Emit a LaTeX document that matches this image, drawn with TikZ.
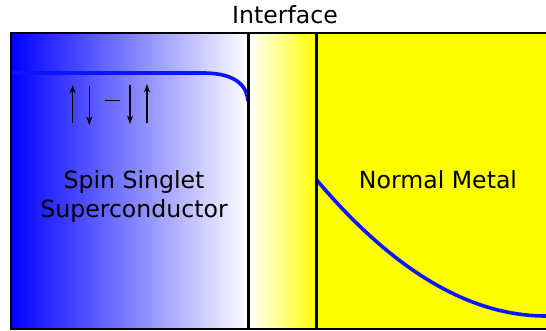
\documentclass[tikz,border=0pt]{standalone}
\usepackage{fontspec}
\setmainfont{DejaVu Sans}
\usetikzlibrary{arrows.meta}
\definecolor{pureyellow}{RGB}{255,255,0}
\definecolor{pureblue}{RGB}{0,0,255}
\definecolor{wavecol}{RGB}{10,20,255}
\begin{document}
\begin{tikzpicture}[x=1pt,y=-1pt,
  lbl/.style={anchor=base,inner sep=0pt,font=\fontsize{23.6}{29}\selectfont},
  border/.style={line width=2.6pt,black},
  wave/.style={line width=3.6pt,color=wavecol},
  spinarrow/.style={line width=1.3pt,-{Stealth[length=8.5pt,width=6pt]}}]
\useasboundingbox (0,0) rectangle (546,330);
\begin{scope}
\clip (0,0) rectangle (546,330);
\shade[left color=pureblue,right color=white] (11,33) rectangle (248.3,329);
\shade[left color=white,right color=pureyellow] (248.3,33) rectangle (316.7,329);
\fill[pureyellow] (316.7,33) rectangle (550,329);
% wave functions
\draw[wave] (11,73) -- (203,73) .. controls (236,73) and (247,86) .. (248,101);
\draw[wave] (316.7,180) .. controls (393.3,270.7) and (469.7,316) .. (546,316);
% borders
\draw[border] (550,33) -- (11,33) -- (11,329) -- (550,329);
\draw[border] (248.3,33) -- (248.3,329);
\draw[border] (316.7,33) -- (316.7,329);
\end{scope}
% spin arrows
\coordinate (a1s) at (72.7,123); \coordinate (a1e) at (72.7,85);
\coordinate (a2s) at (89.3,86); \coordinate (a2e) at (89.3,125);
\coordinate (d1) at (104.5,100.7); \coordinate (d2) at (120,100.7);
\coordinate (a3s) at (130,85); \coordinate (a3e) at (130,124);
\coordinate (a4s) at (147,123); \coordinate (a4e) at (147,84);
\draw[spinarrow] (a1s) -- (a1e);
\draw[spinarrow] (a2s) -- (a2e);
\draw[line width=1.3pt] (d1) -- (d2);
\draw[spinarrow] (a3s) -- (a3e);
\draw[spinarrow] (a4s) -- (a4e);
% labels
\node[lbl] (iface) at (285,23) {Interface};
\node[lbl] (sc1) at (134,188) {Spin Singlet};
\node[lbl] (sc2) at (134,217) {Superconductor};
\node[lbl] (nm) at (438,188) {Normal Metal};
\end{tikzpicture}
\end{document}
